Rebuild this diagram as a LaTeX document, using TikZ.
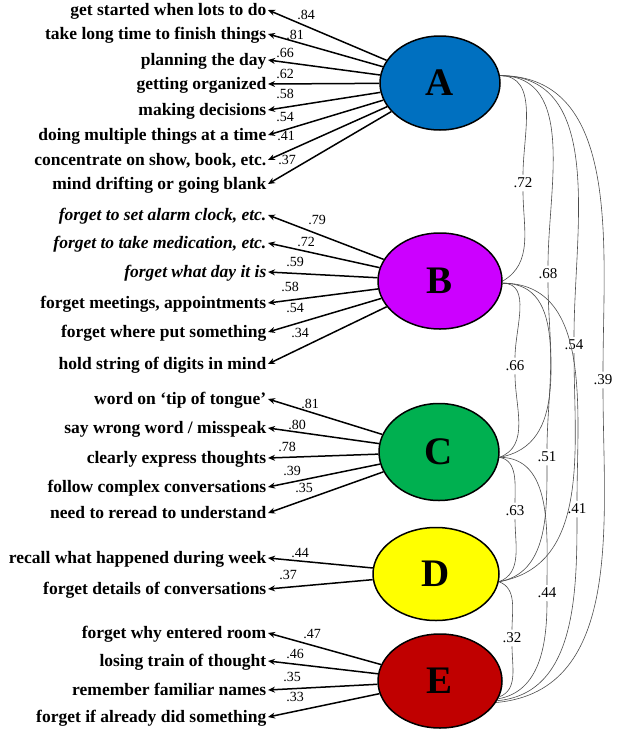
\documentclass[tikz,border=0pt]{standalone}
\usepackage{fontspec}
\setmainfont{Liberation Serif}
\usetikzlibrary{shapes.geometric,arrows.meta}
\definecolor{cA}{RGB}{0,112,192}
\definecolor{cB}{RGB}{204,0,255}
\definecolor{cC}{RGB}{0,176,80}
\definecolor{cD}{RGB}{255,255,0}
\definecolor{cE}{RGB}{192,0,0}
\begin{document}
\begin{tikzpicture}[x=1pt,y=1pt]
\tikzset{
 item/.style={anchor=base east, font=\fontsize{17.5}{18}\selectfont\bfseries, inner xsep=1.5pt, inner ysep=0pt, text height=14pt, text depth=4pt},
 itemi/.style={item, font=\fontsize{17.5}{18}\selectfont\bfseries\itshape},
 load/.style={font=\fontsize{14}{14}\selectfont, inner sep=0pt},
 corrlab/.style={font=\fontsize{15}{15}\selectfont, inner sep=3pt},
 factor/.style={ellipse, draw=black, line width=1.5pt, inner sep=0pt, font=\fontsize{39}{39}\selectfont\bfseries},
 arr/.style={line width=1.5pt, -{Stealth[length=7pt,width=6pt]}},
 corr/.style={draw=black!70, line width=0.6pt},
}
\useasboundingbox (0,0) rectangle (617,-737);
% factors
\node[factor, fill=cA, minimum width=120pt, minimum height=94pt] (A) at (440,-83) {A};
\node[factor, fill=cB, minimum width=124pt, minimum height=96pt] (B) at (440,-281) {B};
\node[factor, fill=cC, minimum width=120pt, minimum height=97pt] (C) at (439,-452) {C};
\node[factor, fill=cD, minimum width=126pt, minimum height=93pt] (D) at (436,-574) {D};
\node[factor, fill=cE, minimum width=124pt, minimum height=94pt] (E) at (440,-681) {E};
% items A
\node[item] (a1) at (268,-15) {get started when lots to do};
\node[item] (a2) at (268,-39) {take long time to finish things};
\node[item] (a3) at (268,-65) {planning the day};
\node[item] (a4) at (268,-89) {getting organized};
\node[item] (a5) at (268,-115) {making decisions};
\node[item] (a6) at (268,-140) {doing multiple things at a time};
\node[item] (a7) at (268,-165) {concentrate on show, book, etc.};
\node[item] (a8) at (268,-189) {mind drifting or going blank};
% items B
\node[itemi] (b1) at (268,-220) {forget to set alarm clock, etc.};
\node[itemi] (b2) at (268,-248) {forget to take medication, etc.};
\node[itemi] (b3) at (268,-277) {forget what day it is};
\node[item] (b4) at (268,-308) {forget meetings, appointments};
\node[item] (b5) at (268,-337) {forget where put something};
\node[item] (b6) at (268,-369) {hold string of digits in mind};
% items C
\node[item] (c1) at (268,-404) {word on ‘tip of tongue’};
\node[item] (c2) at (268,-433) {say wrong word / misspeak};
\node[item] (c3) at (268,-463) {clearly express thoughts};
\node[item] (c4) at (268,-492) {follow complex conversations};
\node[item] (c5) at (268,-518) {need to reread to understand};
% items D
\node[item] (d1) at (268,-563) {recall what happened during week};
\node[item] (d2) at (268,-594) {forget details of conversations};
% items E
\node[item] (e1) at (268,-638) {forget why entered room};
\node[item] (e2) at (268,-666) {losing train of thought};
\node[item] (e3) at (268,-695) {remember familiar names};
\node[item] (e4) at (268,-722) {forget if already did something};
% loading arrows
\foreach \f/\i in {A/a1,A/a2,A/a3,A/a4,A/a5,A/a6,A/a7,A/a8,B/b1,B/b2,B/b3,B/b4,B/b5,B/b6,C/c1,C/c2,C/c3,C/c4,C/c5,D/d1,D/d2,E/e1,E/e2,E/e3,E/e4}
  \draw[arr] (\f) -- (\i.east);
% loading labels
\node[load] (la1) at (306,-15) {.84};
\node[load] (la2) at (295,-35) {.81};
\node[load] (la3) at (285,-53) {.66};
\node[load] (la4) at (285,-74) {.62};
\node[load] (la5) at (285,-94) {.58};
\node[load] (la6) at (285,-117) {.54};
\node[load] (la7) at (286,-136) {.41};
\node[load] (la8) at (287,-160) {.37};
\node[load] (lb1) at (317,-220) {.79};
\node[load] (lb2) at (306,-242) {.72};
\node[load] (lb3) at (295,-262) {.59};
\node[load] (lb4) at (290,-287) {.58};
\node[load] (lb5) at (295,-308) {.54};
\node[load] (lb6) at (300,-333) {.34};
\node[load] (lc1) at (310,-404) {.81};
\node[load] (lc2) at (297,-425) {.80};
\node[load] (lc3) at (287,-447) {.78};
\node[load] (lc4) at (292,-471) {.39};
\node[load] (lc5) at (304,-488) {.35};
\node[load] (ld1) at (300,-553) {.44};
\node[load] (ld2) at (288,-575) {.37};
\node[load] (le1) at (312,-634) {.47};
\node[load] (le2) at (295,-654) {.46};
\node[load] (le3) at (292,-677) {.35};
\node[load] (le4) at (295,-697) {.33};
% correlation labels
\node[corrlab] (rAB) at (523,-183) {.72};
\node[corrlab] (rAC) at (548,-274) {.68};
\node[corrlab] (rAD) at (574,-345) {.54};
\node[corrlab] (rAE) at (603,-380) {.39};
\node[corrlab] (rBC) at (515,-366) {.66};
\node[corrlab] (rBD) at (547,-457) {.51};
\node[corrlab] (rBE) at (577,-509) {.41};
\node[corrlab] (rCD) at (515,-511) {.63};
\node[corrlab] (rCE) at (547,-593) {.44};
\node[corrlab] (rDE) at (512,-638) {.32};
% correlation curves
\draw[corr] (A.7) to[out=0,in=90] (rAB) to[out=-90,in=30] (B.east);
\draw[corr] (A.7) to[out=0,in=90] (rAC) to[out=-90,in=10] (C.-5);
\draw[corr] (A.7) to[out=0,in=90] (rAD) to[out=-90,in=10] (D.-7);
\draw[corr] (A.7) to[out=0,in=90] (rAE) to[out=-90,in=5] (E.-21);
\draw[corr] (B.-2) to[out=0,in=90] (rBC) to[out=-90,in=20] (C.-5);
\draw[corr] (B.-2) to[out=0,in=90] (rBD) to[out=-90,in=10] (D.-7);
\draw[corr] (B.-2) to[out=0,in=90] (rBE) to[out=-90,in=5] (E.-19);
\draw[corr] (C.-5) to[out=-10,in=90] (rCD) to[out=-90,in=20] (D.-7);
\draw[corr] (C.-5) to[out=0,in=90] (rCE) to[out=-90,in=10] (E.-17);
\draw[corr] (D.-7) to[out=-20,in=90] (rDE) to[out=-90,in=20] (E.-15);
\end{tikzpicture}
\end{document}
